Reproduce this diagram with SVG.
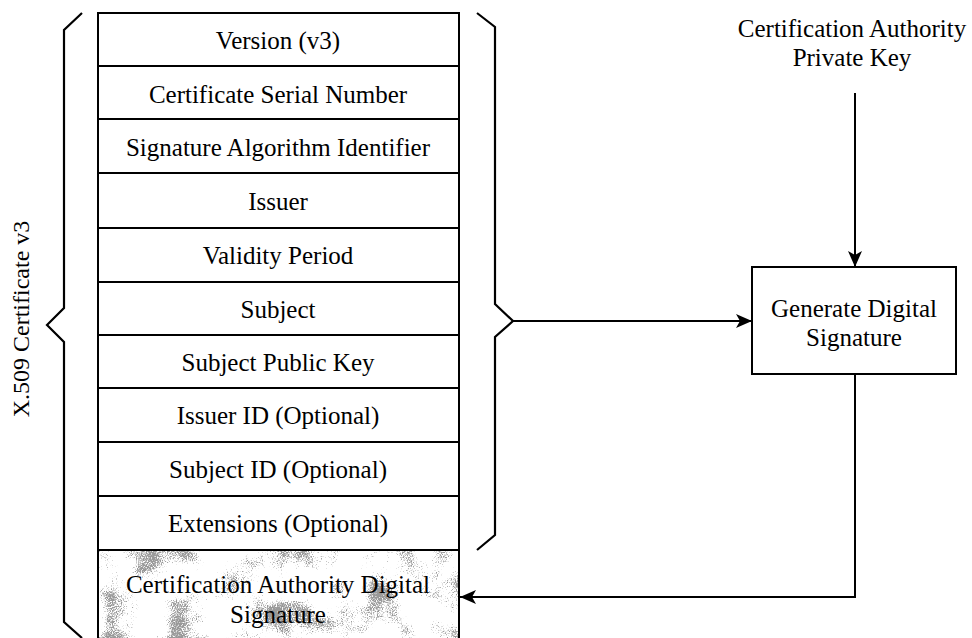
<svg xmlns="http://www.w3.org/2000/svg" width="972" height="638" viewBox="0 0 972 638">
<style>
text{font-family:"Liberation Serif","Times New Roman",serif;font-size:25px;fill:#000;text-anchor:middle}
.cell{fill:#fff;stroke:#000;stroke-width:2}
.brace{fill:none;stroke:#000;stroke-width:2.2;stroke-linejoin:miter}
.conn{fill:none;stroke:#000;stroke-width:2}
</style>
<defs>
<marker id="arr" viewBox="0 0 16 14" refX="16" refY="7" markerWidth="16" markerHeight="14" markerUnits="userSpaceOnUse" orient="auto">
<path d="M0,0 L16,7 L0,14 L4,7 Z" fill="#000"/>
</marker>
<filter id="speckle" x="0" y="0" width="1" height="1" color-interpolation-filters="sRGB">
<feTurbulence type="fractalNoise" baseFrequency="0.03" numOctaves="3" seed="4" result="t1"/>
<feColorMatrix in="t1" type="matrix" values="1 0 0 0 0 1 0 0 0 0 1 0 0 0 0 0 0 0 0 1" result="c1"/>
<feTurbulence type="fractalNoise" baseFrequency="0.8" numOctaves="1" seed="9" result="t2"/>
<feColorMatrix in="t2" type="matrix" values="1 0 0 0 0 1 0 0 0 0 1 0 0 0 0 0 0 0 0 1" result="c2"/>
<feComposite in="c1" in2="c2" operator="arithmetic" k1="0" k2="1" k3="0.7" k4="-0.9" result="m"/>
<feColorMatrix in="m" type="matrix" values="0 0 0 0 0.6 0 0 0 0 0.6 0 0 0 0 0.6 5 0 0 0 -0.3"/>
</filter>
</defs>
<rect width="972" height="638" fill="#fff"/>

<g id="label-x509">
<text transform="translate(29,319) rotate(-90)" style="font-size:24px">X.509 Certificate v3</text>
</g>

<g id="brace-left"><path class="brace" d="M82,13 L64,30 L64,308 L47,325 L64,342 L64,622 L82,638"/></g>
<g id="brace-right"><path class="brace" d="M477,13 L495,27 L495,304 L513,321 L495,337 L495,535 L477,550"/></g>

<g id="field-version"><rect class="cell" x="98" y="13" width="361" height="53"/><text x="278" y="49">Version (v3)</text></g>
<g id="field-serial"><rect class="cell" x="98" y="66" width="361" height="53"/><text x="278" y="103">Certificate Serial Number</text></g>
<g id="field-sigalg"><rect class="cell" x="98" y="119" width="361" height="54"/><text x="278" y="156">Signature Algorithm Identifier</text></g>
<g id="field-issuer"><rect class="cell" x="98" y="173" width="361" height="55"/><text x="278" y="210">Issuer</text></g>
<g id="field-validity"><rect class="cell" x="98" y="228" width="361" height="54"/><text x="278" y="264">Validity Period</text></g>
<g id="field-subject"><rect class="cell" x="98" y="282" width="361" height="53"/><text x="278" y="318">Subject</text></g>
<g id="field-subjpk"><rect class="cell" x="98" y="335" width="361" height="53"/><text x="278" y="371">Subject Public Key</text></g>
<g id="field-issuerid"><rect class="cell" x="98" y="388" width="361" height="54"/><text x="278" y="424">Issuer ID (Optional)</text></g>
<g id="field-subjid"><rect class="cell" x="98" y="442" width="361" height="54"/><text x="278" y="478">Subject ID (Optional)</text></g>
<g id="field-ext"><rect class="cell" x="98" y="496" width="361" height="54"/><text x="278" y="532">Extensions (Optional)</text></g>
<g id="field-casig">
<rect x="98" y="550" width="361" height="100" fill="#fff"/>
<rect x="99" y="551" width="359" height="88" fill="#fff" filter="url(#speckle)"/>
<rect x="98" y="550" width="361" height="100" fill="none" stroke="#000" stroke-width="2"/>
<text x="278" y="593">Certification Authority Digital</text>
<text x="278" y="623">Signature</text>
</g>

<g id="ca-key">
<text x="852" y="37">Certification Authority</text>
<text x="852" y="66">Private Key</text>
</g>

<g id="gen-sig">
<rect class="cell" x="752" y="267" width="204" height="107"/>
<text x="854" y="317">Generate Digital</text>
<text x="854" y="346">Signature</text>
</g>

<g id="connectors">
<path class="conn" d="M513,321 L752,321" marker-end="url(#arr)"/>
<path class="conn" d="M855,93 L855,267" marker-end="url(#arr)"/>
<path class="conn" d="M855,374 L855,597 L460,597" marker-end="url(#arr)"/>
</g>
</svg>
